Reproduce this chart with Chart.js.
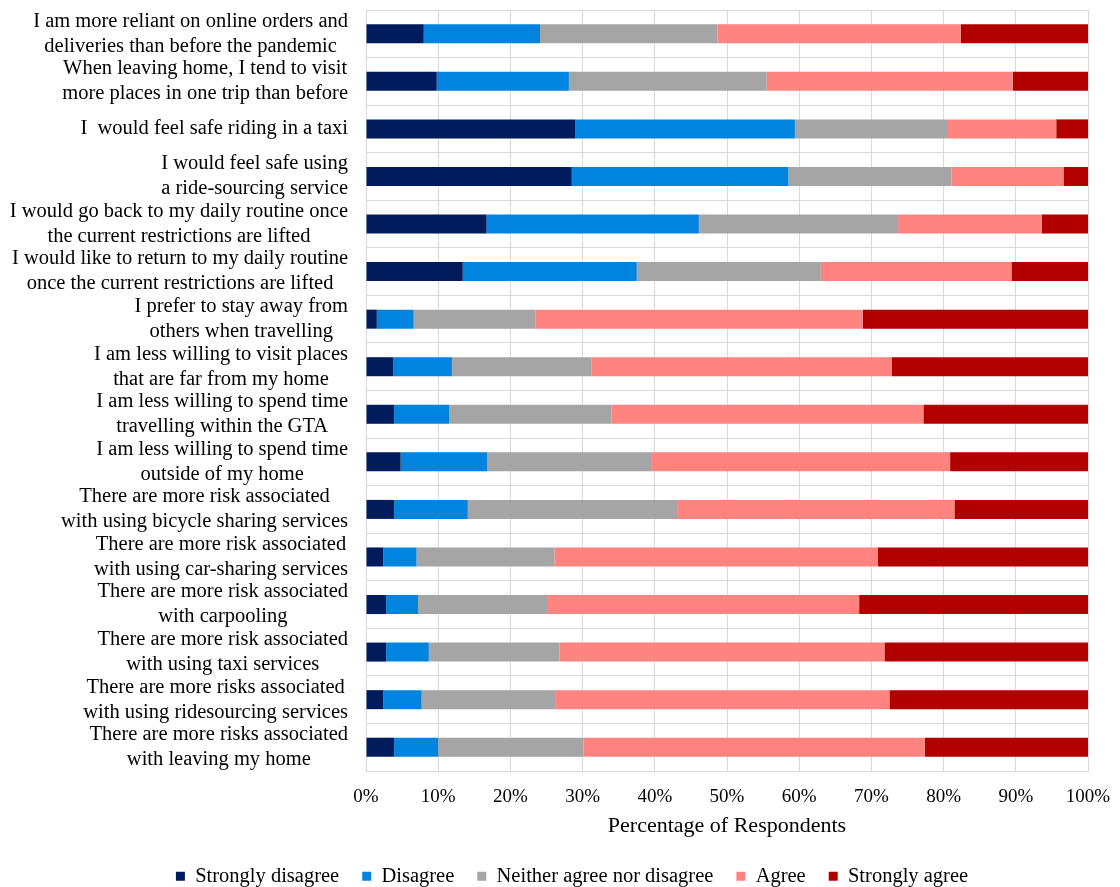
<!DOCTYPE html>
<html>
<head>
<meta charset="utf-8">
<script src="https://cdn.jsdelivr.net/npm/chart.js@4.4.1/dist/chart.umd.min.js"></script>
<style>
  html, body { margin: 0; padding: 0; background: #fff; }
  #wrap { width: 1120px; height: 887px; position: relative; }
</style>
</head>
<body>
<div id="wrap"><canvas id="chart"></canvas></div>
<script>
// Survey statements, top to bottom
const categories = [
    ['I am more reliant on online orders and', 'deliveries than before the pandemic'],
    ['When leaving home, I tend to visit', 'more places in one trip than before'],
    ['I  would feel safe riding in a taxi'],
    ['I would feel safe using', 'a ride-sourcing service'],
    ['I would go back to my daily routine once', 'the current restrictions are lifted'],
    ['I would like to return to my daily routine', 'once the current restrictions are lifted'],
    ['I prefer to stay away from', 'others when travelling'],
    ['I am less willing to visit places', 'that are far from my home'],
    ['I am less willing to spend time', 'travelling within the GTA'],
    ['I am less willing to spend time', 'outside of my home'],
    ['There are more risk associated', 'with using bicycle sharing services'],
    ['There are more risk associated', 'with using car-sharing services'],
    ['There are more risk associated', 'with carpooling'],
    ['There are more risk associated', 'with using taxi services'],
    ['There are more risks associated', 'with using ridesourcing services'],
    ['There are more risks associated', 'with leaving my home']
];

// Percentage of respondents per answer
const stronglyDisagree = [8.0, 9.8, 29.0, 28.5, 16.7, 13.4, 1.5, 3.8, 3.9, 4.8, 3.9, 2.4, 2.8, 2.8, 2.4, 3.9];
const disagree         = [16.1, 18.3, 30.4, 30.0, 29.4, 24.1, 5.1, 8.1, 7.6, 12.0, 10.2, 4.6, 4.4, 5.9, 5.3, 6.1];
const neither          = [24.6, 27.4, 21.2, 22.6, 27.6, 25.5, 16.9, 19.3, 22.5, 22.8, 29.1, 19.1, 18.0, 18.1, 18.6, 20.1];
const agree            = [33.7, 34.1, 15.0, 15.5, 19.9, 26.4, 45.3, 41.6, 43.2, 41.3, 38.3, 44.8, 43.1, 45.0, 46.2, 47.3];
const stronglyAgree    = [17.6, 10.4, 4.4, 3.4, 6.4, 10.6, 31.2, 27.2, 22.8, 19.1, 18.5, 29.1, 31.7, 28.2, 27.5, 22.6];

const xTicks = [0, 10, 20, 30, 40, 50, 60, 70, 80, 90, 100];

const FONT = "'Liberation Serif', 'Times New Roman', serif";
Chart.defaults.font.family = FONT;
Chart.defaults.font.size = 19;
Chart.defaults.color = '#000';

// y labels: each block right-aligned to the axis, lines centred inside the block
const blockLabels = {
    id: 'blockLabels',
    afterDraw(chart) {
        const { ctx } = chart;
        const y = chart.scales.y;
        const right = y.right - 18;
        const lineGap = 25;
        ctx.save();
        ctx.font = '20.5px ' + FONT;
        ctx.fillStyle = '#000';
        ctx.textAlign = 'center';
        ctx.textBaseline = 'middle';
        chart.data.labels.forEach((lines, i) => {
            const w = Math.max(...lines.map(l => ctx.measureText(l).width));
            const cx = right - w / 2;
            const cy = y.getPixelForValue(i);
            lines.forEach((l, j) => {
                ctx.fillText(l, cx, cy + (j - (lines.length - 1) / 2) * lineGap);
            });
        });
        ctx.restore();
    }
};

const series = [
    { label: 'Strongly disagree', data: stronglyDisagree, color: '#001c5c' },
    { label: 'Disagree', data: disagree, color: '#0084e0' },
    { label: 'Neither agree nor disagree', data: neither, color: '#a5a5a5' },
    { label: 'Agree', data: agree, color: '#ff8480' },
    { label: 'Strongly agree', data: stronglyAgree, color: '#b20000' }
];

new Chart(document.getElementById('chart'), {
    type: 'bar',
    data: {
        labels: categories,
        datasets: series.map(s => ({
            label: s.label,
            data: s.data,
            backgroundColor: s.color,
            borderWidth: 0,
            categoryPercentage: 1,
            barPercentage: 0.4
        }))
    },
    options: {
        indexAxis: 'y',
        responsive: true,
        maintainAspectRatio: false,
        animation: false,
        layout: { padding: { top: 10, right: 32, bottom: 0, left: 56 } },
        scales: {
            x: {
                stacked: true,
                min: 0,
                max: 100,
                afterBuildTicks: scale => { scale.ticks = xTicks.map(v => ({ value: v })); },
                ticks: {
                    padding: 15,
                    maxRotation: 0,
                    callback: v => v + '%'
                },
                grid: { color: '#d9d9d9', drawTicks: false },
                border: { color: '#d9d9d9' },
                title: {
                    display: true,
                    text: 'Percentage of Respondents',
                    font: { size: 22 },
                    padding: { top: 4, bottom: 4 }
                },
                afterFit: scale => {
                    scale.height = 72;
                    scale.paddingLeft = 0;
                    scale.paddingRight = 0;
                }
            },
            y: {
                stacked: true,
                ticks: { display: false },
                grid: { color: '#d9d9d9', drawTicks: false },
                border: { color: '#d9d9d9' },
                afterFit: scale => {
                    scale.width = 310;
                    scale.paddingTop = 0;
                    scale.paddingBottom = 0;
                }
            }
        },
        plugins: {
            legend: {
                position: 'bottom',
                maxHeight: 44,
                labels: {
                    boxWidth: 9,
                    boxHeight: 9,
                    padding: 23,
                    font: { size: 20.5 }
                }
            },
            tooltip: { enabled: false }
        }
    },
    plugins: [blockLabels]
});
</script>
</body>
</html>
